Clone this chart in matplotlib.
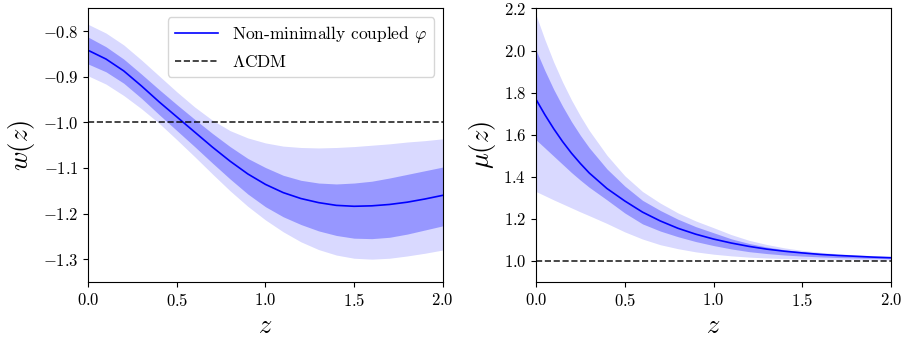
import matplotlib
matplotlib.use("Agg")
import matplotlib.pyplot as plt
import numpy as np

plt.rcParams['font.family'] = 'serif'
plt.rcParams['font.serif'] = ['cmr10', 'DejaVu Serif']
plt.rcParams['mathtext.fontset'] = 'cm'
plt.rcParams['axes.formatter.use_mathtext'] = True

# ---------------- data ----------------
z_w = [0.0, 0.1, 0.2, 0.3, 0.4, 0.5, 0.6, 0.7, 0.8, 0.9, 1.0,
       1.1, 1.2, 1.3, 1.4, 1.5, 1.6, 1.7, 1.8, 1.9, 2.0]

# w(z): best fit and 1-sigma / 2-sigma bounds
w_mean = [-0.842, -0.861, -0.887, -0.920, -0.955, -0.988, -1.021, -1.054, -1.085, -1.113, -1.136,
          -1.154, -1.167, -1.176, -1.182, -1.184, -1.183, -1.180, -1.175, -1.168, -1.160]
w_1s_hi = [-0.813, -0.834, -0.861, -0.894, -0.928, -0.961, -0.993, -1.024, -1.053, -1.079, -1.099,
           -1.116, -1.127, -1.133, -1.135, -1.133, -1.129, -1.122, -1.114, -1.106, -1.098]
w_1s_lo = [-0.872, -0.889, -0.914, -0.947, -0.983, -1.018, -1.053, -1.089, -1.124, -1.157, -1.185,
           -1.207, -1.224, -1.238, -1.248, -1.254, -1.255, -1.252, -1.245, -1.236, -1.227]
w_2s_hi = [-0.785, -0.804, -0.830, -0.863, -0.898, -0.933, -0.966, -0.995, -1.018, -1.034, -1.045,
           -1.052, -1.055, -1.056, -1.055, -1.053, -1.050, -1.047, -1.043, -1.040, -1.036]
w_2s_lo = [-0.898, -0.916, -0.941, -0.970, -1.002, -1.038, -1.075, -1.113, -1.150, -1.184, -1.214,
           -1.240, -1.262, -1.279, -1.291, -1.298, -1.300, -1.298, -1.293, -1.287, -1.280]

z_mu = [0.0, 0.05, 0.1, 0.15, 0.2, 0.25, 0.3, 0.4, 0.5, 0.6, 0.7, 0.8, 0.9, 1.0,
        1.1, 1.2, 1.3, 1.4, 1.5, 1.6, 1.7, 1.8, 1.9, 2.0]

# mu(z): best fit and 1-sigma / 2-sigma bounds
mu_mean = [1.768, 1.695, 1.628, 1.567, 1.512, 1.463, 1.418, 1.344, 1.285, 1.232, 1.190, 1.155,
           1.127, 1.104, 1.085, 1.069, 1.056, 1.046, 1.038, 1.031, 1.026, 1.022, 1.018, 1.015]
mu_1s_hi = [2.003, 1.905, 1.815, 1.735, 1.662, 1.597, 1.538, 1.437, 1.356, 1.288, 1.240, 1.198,
            1.163, 1.134, 1.105, 1.083, 1.066, 1.053, 1.044, 1.036, 1.030, 1.025, 1.021, 1.018]
mu_1s_lo = [1.576, 1.537, 1.498, 1.459, 1.420, 1.384, 1.350, 1.290, 1.228, 1.176, 1.142, 1.115,
            1.092, 1.073, 1.057, 1.044, 1.035, 1.028, 1.023, 1.019, 1.016, 1.014, 1.012, 1.010]
mu_2s_hi = [2.170, 2.052, 1.945, 1.850, 1.765, 1.689, 1.620, 1.502, 1.405, 1.330, 1.275, 1.228,
            1.190, 1.158, 1.125, 1.098, 1.078, 1.062, 1.050, 1.041, 1.034, 1.029, 1.025, 1.022]
mu_2s_lo = [1.330, 1.310, 1.290, 1.271, 1.252, 1.233, 1.215, 1.178, 1.138, 1.104, 1.077, 1.058,
            1.043, 1.032, 1.024, 1.018, 1.014, 1.011, 1.009, 1.008, 1.007, 1.006, 1.005, 1.005]

w_lcdm = -1.0
mu_lcdm = 1.0

# ---------------- figure ----------------
fig = plt.figure(figsize=(9.12, 3.52), dpi=100)
ax1 = fig.add_axes([0.0968, 0.199, 0.3886, 0.777])
ax2 = fig.add_axes([0.5877, 0.199, 0.3893, 0.777])

def panel(ax, z, mean, s1hi, s1lo, s2hi, s2lo, ref):
    ax.fill_between(z, s2lo, s2hi, color='blue', alpha=0.15, linewidth=0)
    ax.fill_between(z, s1lo, s1hi, color='blue', alpha=0.3, linewidth=0)
    ax.plot(z, mean, color='blue', lw=1.2, label=r'Non-minimally coupled $\varphi$')
    ax.axhline(ref, color='k', ls='--', lw=1.2, alpha=0.85, label=r'$\Lambda$CDM')
    ax.set_xlim(0, 2)
    ax.set_xticks([0.0, 0.5, 1.0, 1.5, 2.0])
    ax.tick_params(labelsize=12)
    ax.set_xlabel(r'$z$', fontsize=19)

panel(ax1, z_w, w_mean, w_1s_hi, w_1s_lo, w_2s_hi, w_2s_lo, w_lcdm)
ax1.set_ylim(-1.35, -0.75)
ax1.set_yticks([-1.3, -1.2, -1.1, -1.0, -0.9, -0.8])
ax1.set_ylabel(r'$w(z)$', fontsize=19)
ax1.legend(loc='upper right', fontsize=12.5, handlelength=2.5)

panel(ax2, z_mu, mu_mean, mu_1s_hi, mu_1s_lo, mu_2s_hi, mu_2s_lo, mu_lcdm)
ax2.set_ylim(0.9, 2.2)
ax2.set_yticks([1.0, 1.2, 1.4, 1.6, 1.8, 2.0, 2.2])
ax2.set_ylabel(r'$\mu(z)$', fontsize=19)

fig.savefig('out.png', dpi=100)
